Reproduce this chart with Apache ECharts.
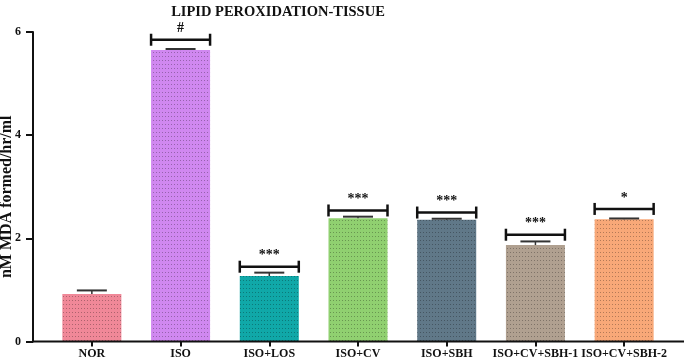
<!DOCTYPE html>
<html>
<head>
<meta charset="utf-8">
<title>Lipid peroxidation - tissue</title>
<script src="https://cdn.jsdelivr.net/npm/echarts@6/dist/echarts.min.js"></script>
<style>
  html, body { margin: 0; padding: 0; background: #fff; }
  #main { width: 685px; height: 360px; }
</style>
</head>
<body>
<div id="main"></div>
<script>
var categories = ['NOR', 'ISO', 'ISO+LOS', 'ISO+CV', 'ISO+SBH', 'ISO+CV+SBH-1', 'ISO+CV+SBH-2'];
var means = [0.92, 5.65, 1.27, 2.39, 2.36, 1.87, 2.37];
var errors = [0.07, 0.02, 0.065, 0.03, 0.02, 0.07, 0.015];
var sigLabels = ['', '#', '***', '***', '***', '***', '*'];
var bracketLevels = [null, 5.85, 1.45, 2.54, 2.50, 2.07, 2.57];
var yTicks = [0, 2, 4, 6];
var colors = ['#f08898', '#d088f0', '#10a8a8', '#90d070', '#607888', '#b0a090', '#f8a878'];

var FONT = '"Liberation Serif", "DejaVu Serif", serif';
var chart = echarts.init(document.getElementById('main'), null, { renderer: 'canvas' });

var barData = means.map(function (v, i) {
  return {
    value: v,
    itemStyle: {
      color: colors[i],
      decal: {
        symbol: 'rect',
        symbolSize: 1,
        dashArrayX: [1, 2],
        dashArrayY: [1, 3],
        color: 'rgba(0,0,0,0.28)'
      }
    }
  };
});

var errData = means.map(function (v, i) { return [i, v, v + errors[i]]; });
var sigData = [];
bracketLevels.forEach(function (lv, i) {
  if (lv != null) sigData.push([i, lv, sigLabels[i]]);
});

var option = {
  animation: false,
  title: {
    text: 'LIPID PEROXIDATION-TISSUE',
    left: 273,
    textAlign: 'center',
    top: 0,
    textStyle: { fontFamily: FONT, fontWeight: 'bold', fontSize: 14.5, color: '#111' }
  },
  grid: { left: 47.5, right: 16.5, top: 32, bottom: 18.5, outerBoundsMode: 'none' },
  xAxis: {
    type: 'category',
    data: categories,
    axisLine: { show: false },
    axisTick: { show: true, alignWithLabel: true, length: 5, lineStyle: { color: '#111', width: 2 } },
    axisLabel: { fontFamily: FONT, fontWeight: 'bold', fontSize: 12, color: '#111', margin: 6, interval: 0 }
  },
  yAxis: {
    type: 'value',
    min: 0,
    max: 6,
    interval: 2,
    offset: 14.5,
    name: 'nM MDA formed/hr/ml',
    nameLocation: 'middle',
    nameGap: 18,
    nameMoveOverlap: false,
    nameTextStyle: { fontFamily: FONT, fontWeight: 'bold', fontSize: 16, color: '#111', padding: [0, 20, 0, 0] },
    axisLine: { show: true, lineStyle: { color: '#111', width: 2 } },
    axisTick: { show: true, length: 7, lineStyle: { color: '#111', width: 2 } },
    axisLabel: {
      fontFamily: FONT, fontWeight: 'bold', fontSize: 12, color: '#111', margin: 12,
      formatter: function (v) { return yTicks.indexOf(v) >= 0 ? String(v) : ''; }
    },
    splitLine: { show: false }
  },
  graphic: [{
    type: 'line',
    shape: { x1: 32, y1: 341.5, x2: 684, y2: 341.5 },
    style: { stroke: '#111', lineWidth: 2 },
    z: 10
  }],
  series: [
    {
      type: 'bar',
      data: barData,
      barWidth: 59
    },
    {
      type: 'custom',
      data: errData,
      z: 5,
      renderItem: function (params, api) {
        var base = api.coord([api.value(0), api.value(1)]);
        var top = api.coord([api.value(0), api.value(2)]);
        var half = 15;
        return {
          type: 'group',
          children: [
            { type: 'line', shape: { x1: base[0], y1: base[1], x2: top[0], y2: top[1] },
              style: { stroke: '#333', lineWidth: 1.5 } },
            { type: 'line', shape: { x1: top[0] - half, y1: top[1], x2: top[0] + half, y2: top[1] },
              style: { stroke: '#333', lineWidth: 2 } }
          ]
        };
      }
    },
    {
      type: 'custom',
      data: sigData,
      z: 6,
      renderItem: function (params, api) {
        var p = api.coord([api.value(0), api.value(1)]);
        var half = 29.5;
        var cap = 6;
        return {
          type: 'group',
          children: [
            { type: 'line', shape: { x1: p[0] - half, y1: p[1], x2: p[0] + half, y2: p[1] },
              style: { stroke: '#111', lineWidth: 2.5 } },
            { type: 'line', shape: { x1: p[0] - half, y1: p[1] - cap, x2: p[0] - half, y2: p[1] + cap },
              style: { stroke: '#111', lineWidth: 2.5 } },
            { type: 'line', shape: { x1: p[0] + half, y1: p[1] - cap, x2: p[0] + half, y2: p[1] + cap },
              style: { stroke: '#111', lineWidth: 2.5 } },
            { type: 'text', x: p[0], y: p[1] - 11,
              style: { text: api.value(2), fill: '#111', font: 'bold 14px ' + FONT,
                       align: 'center', verticalAlign: 'middle' } }
          ]
        };
      }
    }
  ]
};

chart.setOption(option);
</script>
</body>
</html>
